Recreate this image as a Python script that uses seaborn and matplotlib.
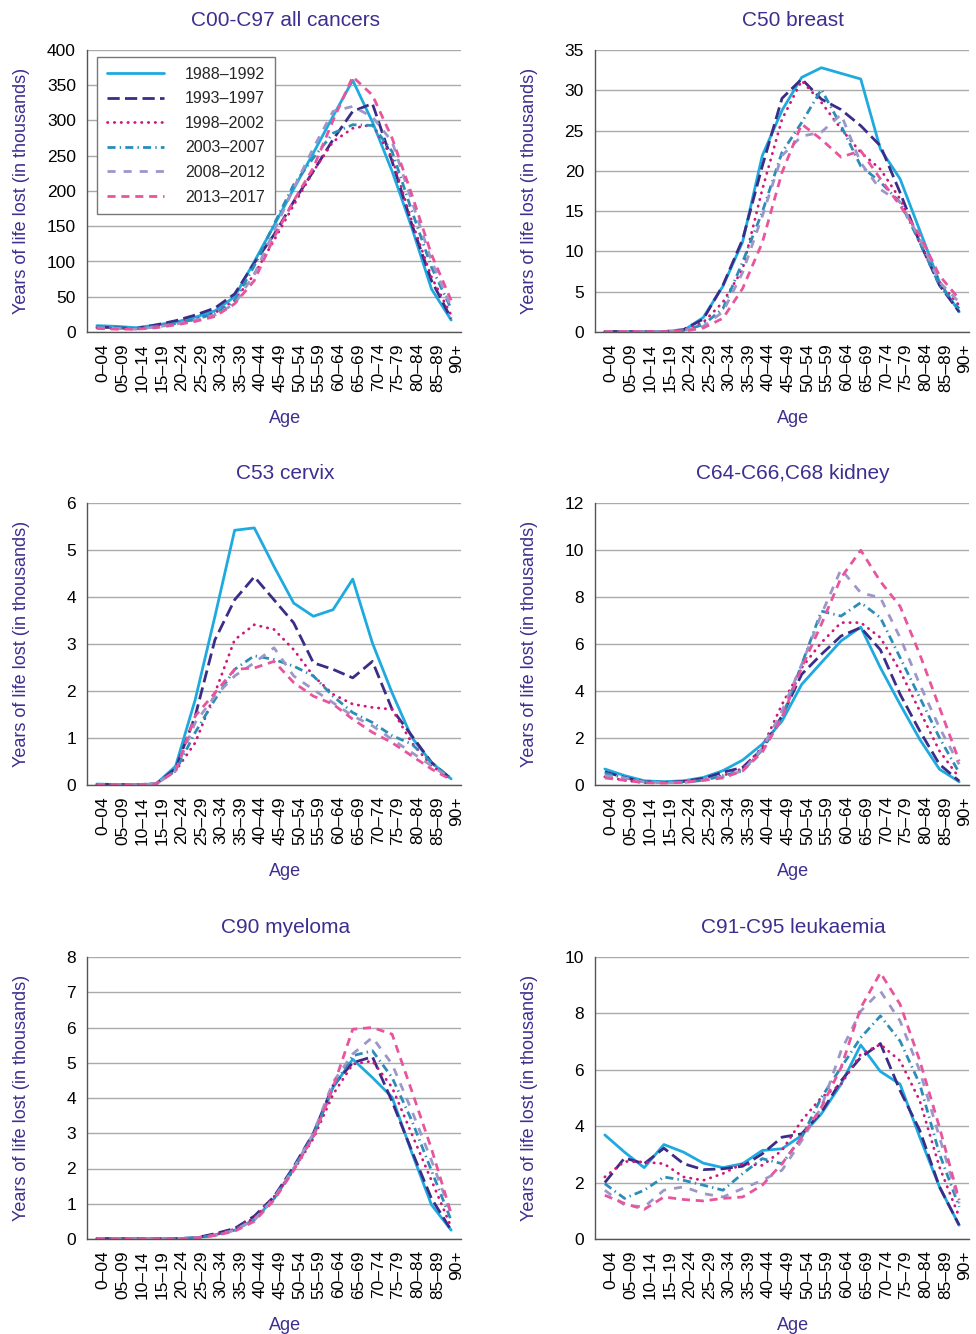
import numpy as np
import pandas as pd
import seaborn as sns
import matplotlib
matplotlib.use("Agg")
import matplotlib.pyplot as plt
from matplotlib.lines import Line2D
from matplotlib.colors import to_hex

# Age groups and periods
ages = ["0–04", "05–09", "10–14", "15–19", "20–24", "25–29", "30–34", "35–39",
        "40–44", "45–49", "50–54", "55–59", "60–64", "65–69", "70–74", "75–79",
        "80–84", "85–89", "90+"]
periods = ["1988–1992", "1993–1997", "1998–2002", "2003–2007", "2008–2012", "2013–2017"]

# Years of life lost (in thousands)
all_cancers = {
    "1988–1992": [9, 8, 6, 10, 14, 21, 30, 50, 100, 151, 203, 254, 306, 357, 298, 228, 148, 61, 17],
    "1993–1997": [7, 6, 5, 10, 16, 24, 34, 54, 98, 138, 185, 228, 273, 313, 324, 242, 153, 73, 19],
    "1998–2002": [6, 5, 5, 8, 12, 18, 27, 45, 82, 130, 180, 228, 270, 289, 294, 247, 157, 78, 24],
    "2003–2007": [7, 6, 5, 8, 12, 18, 26, 44, 94, 153, 209, 247, 282, 294, 293, 256, 172, 92, 33],
    "2008–2012": [6, 5, 4, 7, 11, 17, 24, 40, 82, 143, 204, 261, 313, 320, 305, 270, 186, 101, 35],
    "2013–2017": [5, 4, 4, 6, 10, 15, 22, 40, 73, 134, 186, 233, 300, 362, 336, 275, 195, 110, 45],
}
breast = {
    "1988–1992": [0.05, 0.05, 0.05, 0.05, 0.2, 1.8, 5.7, 11.2, 21.9, 27.5, 31.6, 32.8, 32.1, 31.4, 22.7, 19.0, 12.6, 6.2, 2.5],
    "1993–1997": [0.05, 0.05, 0.05, 0.05, 0.3, 1.6, 5.8, 11.5, 20.6, 29.0, 31.4, 28.9, 27.6, 25.6, 23.1, 17.3, 11.1, 5.8, 2.5],
    "1998–2002": [0.05, 0.05, 0.05, 0.05, 0.2, 1.2, 3.7, 7.8, 17.7, 26.4, 31.2, 28.5, 25.2, 22.3, 20.2, 16.5, 11.1, 6.2, 3.3],
    "2003–2007": [0.05, 0.05, 0.05, 0.05, 0.2, 0.9, 2.9, 8.7, 14.9, 22.3, 26.0, 30.1, 25.6, 20.6, 18.6, 16.1, 11.1, 5.8, 2.9],
    "2008–2012": [0.05, 0.05, 0.05, 0.05, 0.2, 0.7, 2.5, 7.4, 14.4, 21.9, 24.3, 24.8, 27.0, 21.0, 17.7, 16.1, 11.6, 6.2, 3.7],
    "2013–2017": [0.05, 0.05, 0.05, 0.05, 0.1, 0.5, 1.7, 5.4, 11.1, 19.8, 25.8, 23.9, 21.7, 22.5, 19.0, 15.7, 12.0, 7.0, 4.1],
}
cervix = {
    "1988–1992": [0.02, 0.01, 0.01, 0.02, 0.4, 1.82, 3.59, 5.42, 5.47, 4.65, 3.87, 3.59, 3.73, 4.38, 3.02, 1.96, 1.01, 0.48, 0.13],
    "1993–1997": [0.01, 0.01, 0.01, 0.02, 0.35, 1.47, 3.09, 3.94, 4.43, 3.94, 3.45, 2.60, 2.46, 2.28, 2.63, 1.61, 1.05, 0.48, 0.13],
    "1998–2002": [0.01, 0.01, 0.01, 0.02, 0.3, 0.90, 1.96, 3.09, 3.41, 3.31, 2.88, 2.32, 1.93, 1.72, 1.65, 1.61, 0.90, 0.41, 0.13],
    "2003–2007": [0.01, 0.01, 0.01, 0.02, 0.3, 1.12, 1.82, 2.46, 2.75, 2.67, 2.53, 2.32, 1.89, 1.54, 1.33, 1.05, 0.87, 0.48, 0.13],
    "2008–2012": [0.01, 0.01, 0.01, 0.02, 0.3, 1.33, 1.89, 2.32, 2.60, 2.92, 2.32, 2.03, 1.75, 1.47, 1.26, 0.97, 0.69, 0.41, 0.13],
    "2013–2017": [0.01, 0.01, 0.01, 0.02, 0.3, 1.47, 1.96, 2.46, 2.49, 2.63, 2.18, 1.89, 1.72, 1.40, 1.12, 0.90, 0.62, 0.34, 0.11],
}
kidney = {
    "1988–1992": [0.68, 0.40, 0.18, 0.14, 0.18, 0.32, 0.61, 1.06, 1.74, 2.72, 4.28, 5.21, 6.13, 6.72, 4.99, 3.43, 1.94, 0.67, 0.14],
    "1993–1997": [0.56, 0.32, 0.14, 0.11, 0.15, 0.28, 0.54, 0.75, 1.53, 2.94, 4.71, 5.56, 6.34, 6.70, 5.75, 3.86, 2.30, 0.88, 0.17],
    "1998–2002": [0.35, 0.20, 0.10, 0.10, 0.15, 0.20, 0.40, 0.70, 1.60, 3.43, 4.99, 6.06, 6.91, 6.91, 6.27, 4.85, 3.15, 1.45, 0.31],
    "2003–2007": [0.50, 0.30, 0.15, 0.12, 0.12, 0.20, 0.40, 0.60, 1.50, 2.87, 5.13, 7.40, 7.19, 7.76, 7.12, 5.42, 3.72, 2.01, 0.52],
    "2008–2012": [0.40, 0.30, 0.12, 0.10, 0.10, 0.20, 0.35, 0.60, 1.55, 3.15, 5.13, 7.26, 9.18, 8.18, 7.97, 6.27, 4.28, 2.44, 0.88],
    "2013–2017": [0.30, 0.20, 0.10, 0.08, 0.12, 0.20, 0.30, 0.60, 1.40, 2.87, 4.99, 6.84, 8.82, 9.99, 8.66, 7.60, 5.56, 3.30, 1.02],
}
myeloma = {
    "1988–1992": [0.01, 0.01, 0.01, 0.01, 0.01, 0.03, 0.12, 0.25, 0.55, 1.14, 1.99, 2.93, 4.30, 5.10, 4.58, 4.02, 2.45, 0.97, 0.25],
    "1993–1997": [0.01, 0.01, 0.01, 0.01, 0.01, 0.03, 0.15, 0.30, 0.65, 1.20, 2.05, 3.00, 4.35, 5.00, 5.17, 3.90, 2.50, 1.15, 0.25],
    "1998–2002": [0.01, 0.01, 0.01, 0.01, 0.01, 0.03, 0.12, 0.28, 0.60, 1.20, 1.95, 2.85, 4.10, 4.96, 5.05, 4.30, 2.98, 1.66, 0.34],
    "2003–2007": [0.01, 0.01, 0.01, 0.01, 0.01, 0.03, 0.10, 0.25, 0.55, 1.15, 2.00, 2.95, 4.30, 5.20, 5.34, 4.58, 3.36, 1.94, 0.53],
    "2008–2012": [0.01, 0.01, 0.01, 0.01, 0.01, 0.03, 0.10, 0.25, 0.55, 1.15, 2.00, 3.00, 4.45, 5.25, 5.72, 4.96, 3.64, 2.23, 0.72],
    "2013–2017": [0.01, 0.01, 0.01, 0.01, 0.01, 0.03, 0.10, 0.22, 0.50, 1.10, 1.95, 2.90, 4.30, 5.95, 6.00, 5.81, 4.20, 2.56, 0.72],
}
leukaemia = {
    "1988–1992": [3.69, 3.08, 2.53, 3.35, 3.08, 2.69, 2.53, 2.67, 3.14, 3.20, 3.67, 4.44, 5.49, 6.88, 5.94, 5.49, 3.61, 1.85, 0.49],
    "1993–1997": [2.00, 2.87, 2.67, 3.22, 2.67, 2.46, 2.49, 2.58, 3.02, 3.61, 3.73, 4.49, 5.61, 6.44, 6.93, 5.26, 3.85, 1.85, 0.49],
    "1998–2002": [2.20, 2.75, 2.73, 2.67, 2.20, 2.08, 2.32, 2.67, 2.61, 3.14, 4.20, 5.02, 5.49, 6.55, 6.90, 6.32, 4.90, 2.55, 0.79],
    "2003–2007": [1.96, 1.44, 1.73, 2.20, 2.08, 1.91, 1.73, 2.32, 2.85, 2.67, 3.61, 5.02, 6.08, 7.14, 7.91, 7.02, 5.49, 3.02, 1.14],
    "2008–2012": [1.73, 1.20, 1.14, 1.73, 1.85, 1.61, 1.49, 1.79, 2.08, 2.44, 3.49, 4.67, 6.67, 8.08, 8.79, 7.73, 5.96, 3.61, 1.26],
    "2013–2017": [1.55, 1.26, 1.05, 1.49, 1.40, 1.35, 1.44, 1.49, 1.91, 2.67, 3.61, 4.67, 6.08, 8.20, 9.44, 8.32, 6.32, 3.96, 1.38],
}

titles = ["C00-C97 all cancers", "C50 breast", "C53 cervix",
          "C64-C66,C68 kidney", "C90 myeloma", "C91-C95 leukaemia"]
panel_data = [all_cancers, breast, cervix, kidney, myeloma, leukaemia]
ymax = [400, 35, 6, 12, 8, 10]
ystep = [50, 5, 1, 2, 1, 2]

# styles
colors = ["#1eaadf", "#3b2d87", "#cf1679", "#2b8db8", "#9c96c9", "#e8559c"]
dash_codes = ["", (4.4, 1.9), (0.15, 2.3), (2.9, 1.5, 0.5, 1.5), (2.9, 2.9), (2.9, 2.1)]
purple = "#3d2f8f"
lw = 2.0

sns.set_style("white")
plt.rcParams["font.family"] = ["Liberation Sans", "DejaVu Sans"]

fig = plt.figure(figsize=(9.76, 13.34), dpi=100)
W, H = 976, 1334
lefts = [87, 595]
tops = [50, 503, 957]
aw, ah = 374, 282

for k in range(6):
    r, c = divmod(k, 2)
    ax = fig.add_axes([lefts[c] / W, (H - tops[r] - ah) / H, aw / W, ah / H])
    d = panel_data[k]
    df = pd.DataFrame({
        "pos": np.tile(np.arange(len(ages)), len(periods)),
        "value": np.concatenate([d[p] for p in periods]),
        "period": np.repeat(periods, len(ages)),
    })
    sns.lineplot(data=df, x="pos", y="value", hue="period", style="period",
                 hue_order=periods, style_order=periods,
                 palette=dict(zip(periods, colors)),
                 dashes=dict(zip(periods, dash_codes)),
                 linewidth=lw, ax=ax, legend=False)
    for line in ax.lines:
        if to_hex(line.get_color()) == colors[2]:
            line.set_dash_capstyle("round")

    ax.set_xlim(-0.5, len(ages) - 0.5)
    ax.set_ylim(0, ymax[k])
    ax.set_yticks(np.arange(0, ymax[k] + ystep[k] / 2, ystep[k]))
    ax.set_xticks(np.arange(len(ages)) + 0.3)
    ax.set_xticklabels(ages, rotation=90)
    ax.set_xticks(np.arange(-0.5, len(ages), 1), minor=True)
    ax.tick_params(axis="x", which="major", length=0, pad=8, labelsize=12.5, labelcolor="black")
    ax.tick_params(axis="x", which="minor", direction="in", length=6, width=1, color="#555555")
    ax.tick_params(axis="y", length=0, pad=8, labelsize=12.5, labelcolor="black")
    ax.grid(axis="y", color="#aaaaaa", linewidth=1)
    ax.grid(axis="x", visible=False)
    ax.set_axisbelow(True)
    for s in ["top", "right"]:
        ax.spines[s].set_visible(False)
    for s in ["left", "bottom"]:
        ax.spines[s].set_color("#555555")
        ax.spines[s].set_linewidth(1)

    ax.set_title(titles[k], color=purple, fontsize=15, x=0.53, pad=17)
    ax.set_xlabel("Age", color=purple, fontsize=13)
    ax.xaxis.set_label_coords(0.53, -0.275)
    ax.set_ylabel("Years of life lost (in thousands)", color=purple, fontsize=13)
    ax.yaxis.set_label_coords(-0.152, 0.5)

    if k == 0:
        handles = []
        for p, col, dc in zip(periods, colors, dash_codes):
            h = Line2D([], [], color=col, linewidth=lw)
            if dc:
                h.set_dashes(dc)
            if col == colors[2]:
                h.set_dash_capstyle("round")
            handles.append(h)
        leg = ax.legend(handles, periods, loc="upper left", bbox_to_anchor=(0.027, 0.975),
                        borderaxespad=0, frameon=True, fancybox=False, framealpha=1,
                        edgecolor="#777777", fontsize=11.5, handlelength=3.6,
                        handletextpad=1.3, labelspacing=0.6, borderpad=0.6)
        leg.get_frame().set_linewidth(1)

fig.savefig("out.png", dpi=100)
